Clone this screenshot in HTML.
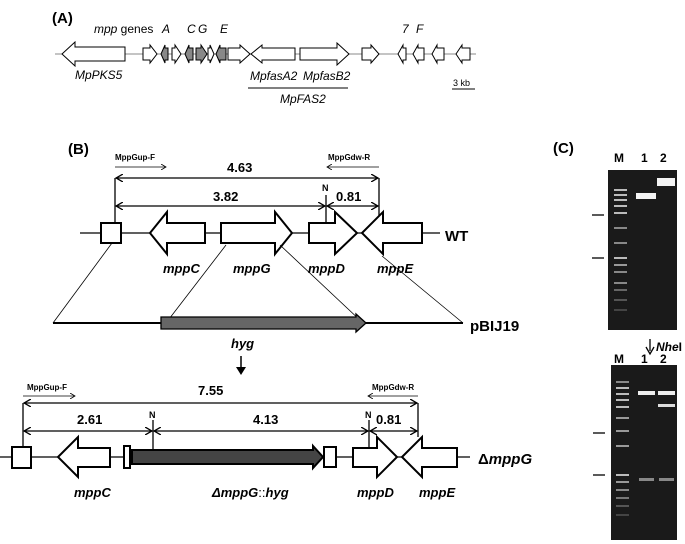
<!DOCTYPE html>
<html><head><meta charset="utf-8"><style>
body{margin:0;background:#fff}
svg{display:block}
text{font-family:"Liberation Sans",Arial,sans-serif}
.b{font-weight:bold}
.i{font-style:italic}
</style></head><body>
<svg width="685" height="544" viewBox="0 0 685 544" xmlns="http://www.w3.org/2000/svg">
<defs>
<marker id="ah" markerWidth="8" markerHeight="8" refX="7" refY="4" orient="auto-start-reverse" markerUnits="userSpaceOnUse"><path d="M0,0 L7,4 L0,8" fill="none" stroke="#000" stroke-width="1.3"/></marker>
<marker id="as" markerWidth="6" markerHeight="6" refX="5" refY="3" orient="auto" markerUnits="userSpaceOnUse"><path d="M0,0 L5,3 L0,6" fill="none" stroke="#000" stroke-width="0.8"/></marker>
</defs>
<!-- Panel A -->
<text x="52" y="23" class="b" font-size="15">(A)</text>
<line x1="55" y1="54" x2="476" y2="54" stroke="#888" stroke-width="1"/>
<g stroke="#000" stroke-width="1" fill="#fff">
<path d="M62,54 L75,42 L75,47 L125,47 L125,61 L75,61 L75,66 Z"/>
<path d="M143,48 L150,48 L150,45 L157,54 L150,63 L150,60 L143,60 Z"/>
<path d="M161,54 L165,45 L165,48 L168,48 L168,60 L165,60 L165,63 Z" fill="#888"/>
<path d="M172,48 L175,48 L175,45 L181,54 L175,63 L175,60 L172,60 Z"/>
<path d="M185,54 L189,45 L189,48 L193,48 L193,60 L189,60 L189,63 Z" fill="#888"/>
<path d="M196,48 L201,48 L201,45 L207,54 L201,63 L201,60 L196,60 Z" fill="#888"/>
<path d="M208,48 L210,48 L210,45 L214,54 L210,63 L210,60 L208,60 Z"/>
<path d="M216,54 L220,45 L220,48 L226,48 L226,60 L220,60 L220,63 Z" fill="#888"/>
<path d="M228,48 L240,48 L240,45 L250,54 L240,63 L240,60 L228,60 Z"/>
<path d="M251,54 L262,45 L262,48 L295,48 L295,60 L262,60 L262,63 Z"/>
<path d="M300,48 L337,48 L337,43 L349,54 L337,65 L337,60 L300,60 Z"/>
<path d="M362,48 L371,48 L371,45 L379,54 L371,63 L371,60 L362,60 Z"/>
<path d="M398,54 L403,45 L403,48 L406,48 L406,60 L403,60 L403,63 Z"/>
<path d="M413,54 L418,45 L418,48 L424,48 L424,60 L418,60 L418,63 Z"/>
<path d="M432,54 L437,45 L437,48 L444,48 L444,60 L437,60 L437,63 Z"/>
<path d="M456,54 L462,45 L462,48 L470,48 L470,60 L462,60 L462,63 Z"/>
</g>
<g font-size="12" class="i">
<text x="94" y="33"><tspan>mpp</tspan><tspan font-style="normal"> genes</tspan></text>
<text x="162" y="33">A</text><text x="187" y="33">C</text><text x="198" y="33">G</text><text x="220" y="33">E</text>
<text x="402" y="33">7</text><text x="416" y="33">F</text>
<text x="75" y="79">MpPKS5</text>
<text x="250" y="80">MpfasA2</text><text x="303" y="80">MpfasB2</text>
<text x="280" y="103">MpFAS2</text>
</g>
<line x1="248" y1="88" x2="348" y2="88" stroke="#000"/>
<line x1="452" y1="89" x2="475" y2="89" stroke="#000"/>
<text x="453" y="86" font-size="9">3 kb</text>

<!-- Panel B -->
<text x="68" y="154" class="b" font-size="15">(B)</text>
<text x="115" y="160" class="b" font-size="8">MppGup-F</text>
<line x1="115" y1="167" x2="166" y2="167" stroke="#000" stroke-width="0.8" marker-end="url(#as)"/>
<text x="328" y="160" class="b" font-size="8">MppGdw-R</text>
<line x1="379" y1="167" x2="327" y2="167" stroke="#000" stroke-width="0.8" marker-end="url(#as)"/>
<g stroke="#000" stroke-width="1.3" fill="none">
<line x1="116" y1="178" x2="378" y2="178" marker-start="url(#ah)" marker-end="url(#ah)"/>
<line x1="116" y1="206" x2="325" y2="206" marker-start="url(#ah)" marker-end="url(#ah)"/>
<line x1="327" y1="206" x2="378" y2="206" marker-start="url(#ah)" marker-end="url(#ah)"/>
<line x1="115" y1="178" x2="115" y2="223"/>
<line x1="379" y1="178" x2="379" y2="222"/>
<line x1="326" y1="195" x2="326" y2="224"/>
</g>
<g class="b" font-size="13"><text x="227" y="172">4.63</text><text x="213" y="201">3.82</text><text x="336" y="201">0.81</text></g>
<text x="322" y="191" class="b" font-size="9">N</text>
<line x1="80" y1="233" x2="440" y2="233" stroke="#000" stroke-width="1.3"/>
<g stroke="#000" stroke-width="2" fill="#fff">
<rect x="101" y="223" width="20" height="20"/>
<path d="M150,233 L167,212 L167,223 L205,223 L205,243 L167,243 L167,254 Z"/>
<path d="M221,223 L275,223 L275,212 L292,233 L275,254 L275,243 L221,243 Z"/>
<path d="M309,223 L335,223 L335,212 L357,233 L335,254 L335,243 L309,243 Z"/>
<path d="M362,233 L383,212 L383,223 L422,223 L422,243 L383,243 L383,254 Z"/>
</g>
<text x="445" y="241" class="b" font-size="15">WT</text>
<g class="b i" font-size="13"><text x="163" y="273">mppC</text><text x="233" y="273">mppG</text><text x="308" y="273">mppD</text><text x="377" y="273">mppE</text></g>
<g stroke="#000" stroke-width="0.8"><line x1="112" y1="243" x2="53" y2="323"/><line x1="226" y1="245" x2="166" y2="323"/><line x1="280" y1="245" x2="363" y2="323"/><line x1="382" y1="256" x2="463" y2="323"/></g>
<line x1="53" y1="323" x2="463" y2="323" stroke="#000" stroke-width="2"/>
<path d="M161,317 L356,317 L356,314 L366,323 L356,332 L356,329 L161,329 Z" fill="#666" stroke="#000" stroke-width="1.3"/>
<text x="470" y="331" class="b" font-size="15">pBIJ19</text>
<text x="231" y="348" class="b i" font-size="13">hyg</text>
<line x1="241" y1="356" x2="241" y2="372" stroke="#000" stroke-width="1.5"/>
<path d="M236,367 L241,375 L246,367" fill="#000"/>

<!-- Bottom construct -->
<text x="27" y="390" class="b" font-size="8">MppGup-F</text>
<line x1="23" y1="396" x2="75" y2="396" stroke="#000" stroke-width="0.8" marker-end="url(#as)"/>
<text x="372" y="390" class="b" font-size="8">MppGdw-R</text>
<line x1="418" y1="396" x2="368" y2="396" stroke="#000" stroke-width="0.8" marker-end="url(#as)"/>
<g stroke="#000" stroke-width="1.3" fill="none">
<line x1="24" y1="403" x2="417" y2="403" marker-start="url(#ah)" marker-end="url(#ah)"/>
<line x1="24" y1="431" x2="152" y2="431" marker-start="url(#ah)" marker-end="url(#ah)"/>
<line x1="154" y1="431" x2="368" y2="431" marker-start="url(#ah)" marker-end="url(#ah)"/>
<line x1="370" y1="431" x2="417" y2="431" marker-start="url(#ah)" marker-end="url(#ah)"/>
<line x1="23" y1="403" x2="23" y2="447"/>
<line x1="418" y1="403" x2="418" y2="437"/>
<line x1="153" y1="420" x2="153" y2="452"/>
<line x1="369" y1="420" x2="369" y2="447"/>
</g>
<g class="b" font-size="13"><text x="198" y="395">7.55</text><text x="77" y="424">2.61</text><text x="253" y="424">4.13</text><text x="376" y="424">0.81</text></g>
<text x="149" y="418" class="b" font-size="9">N</text><text x="365" y="418" class="b" font-size="9">N</text>
<line x1="0" y1="457" x2="470" y2="457" stroke="#000" stroke-width="1.3"/>
<g stroke="#000" stroke-width="2" fill="#fff">
<rect x="12" y="447" width="19" height="21"/>
<path d="M58,457 L78,437 L78,448 L110,448 L110,467 L78,467 L78,477 Z"/>
<rect x="124" y="446" width="6" height="22"/>
<path d="M132,450 L313,450 L313,446 L323,457 L313,468 L313,464 L132,464 Z" fill="#444"/>
<rect x="324" y="447" width="12" height="20"/>
<path d="M353,448 L377,448 L377,437 L397,457 L377,477 L377,467 L353,467 Z"/>
<path d="M402,457 L422,437 L422,448 L457,448 L457,467 L422,467 L422,477 Z"/>
</g>
<text x="478" y="464" class="b" font-size="15">Δ<tspan class="i">mppG</tspan></text>
<g class="b i" font-size="13"><text x="74" y="497">mppC</text><text x="212" y="497">Δ<tspan>mppG</tspan><tspan font-style="normal" font-weight="normal">::</tspan>hyg</text><text x="357" y="497">mppD</text><text x="419" y="497">mppE</text></g>

<!-- Panel C -->
<text x="553" y="153" class="b" font-size="15">(C)</text>
<g class="b" font-size="12"><text x="614" y="162">M</text><text x="641" y="162">1</text><text x="660" y="162">2</text>
<text x="614" y="363">M</text><text x="641" y="363">1</text><text x="660" y="363">2</text></g>
<rect x="608" y="170" width="69" height="160" fill="#1a1a1a"/>
<rect x="611" y="365" width="66" height="175" fill="#1a1a1a"/>
<g stroke="#bbb" stroke-width="2">
<line x1="614" y1="190" x2="627" y2="190"/><line x1="614" y1="195" x2="627" y2="195"/><line x1="614" y1="200" x2="627" y2="200"/><line x1="614" y1="206" x2="627" y2="206"/><line x1="614" y1="213" x2="627" y2="213"/><line x1="614" y1="228" x2="627" y2="228" stroke="#888"/><line x1="614" y1="243" x2="627" y2="243" stroke="#888"/><line x1="614" y1="258" x2="627" y2="258"/><line x1="614" y1="265" x2="627" y2="265" stroke="#999"/><line x1="614" y1="272" x2="627" y2="272" stroke="#888"/><line x1="614" y1="283" x2="627" y2="283" stroke="#888"/><line x1="614" y1="290" x2="627" y2="290" stroke="#666"/><line x1="614" y1="300" x2="627" y2="300" stroke="#555"/><line x1="614" y1="310" x2="627" y2="310" stroke="#444"/>
<line x1="616" y1="382" x2="629" y2="382" stroke="#888"/><line x1="616" y1="388" x2="629" y2="388"/><line x1="616" y1="394" x2="629" y2="394"/><line x1="616" y1="400" x2="629" y2="400"/><line x1="616" y1="407" x2="629" y2="407"/><line x1="616" y1="418" x2="629" y2="418" stroke="#999"/><line x1="616" y1="431" x2="629" y2="431" stroke="#999"/><line x1="616" y1="446" x2="629" y2="446" stroke="#999"/><line x1="616" y1="475" x2="629" y2="475"/><line x1="616" y1="482" x2="629" y2="482" stroke="#999"/><line x1="616" y1="490" x2="629" y2="490" stroke="#888"/><line x1="616" y1="498" x2="629" y2="498" stroke="#777"/><line x1="616" y1="506" x2="629" y2="506" stroke="#555"/><line x1="616" y1="515" x2="629" y2="515" stroke="#444"/>
</g>
<rect x="636" y="193" width="20" height="6" fill="#f4f4f4"/>
<rect x="657" y="178" width="18" height="8" fill="#f4f4f4"/>
<rect x="638" y="391" width="17" height="4" fill="#eee"/>
<rect x="658" y="391" width="17" height="4" fill="#eee"/>
<rect x="658" y="404" width="17" height="3" fill="#ddd"/>
<rect x="639" y="478" width="15" height="3" fill="#888"/>
<rect x="659" y="478" width="15" height="3" fill="#888"/>
<g stroke="#000" stroke-width="1.3"><line x1="592" y1="215" x2="604" y2="215"/><line x1="592" y1="258" x2="604" y2="258"/><line x1="593" y1="433" x2="605" y2="433"/><line x1="593" y1="475" x2="605" y2="475"/></g>
<line x1="650" y1="339" x2="650" y2="351" stroke="#000" stroke-width="1.3"/>
<path d="M646,347 L650,354 L654,347" fill="none" stroke="#000" stroke-width="1.3"/>
<text x="656" y="351" class="b" font-size="12"><tspan class="i">Nhe</tspan>I</text>
</svg>
</body></html>
